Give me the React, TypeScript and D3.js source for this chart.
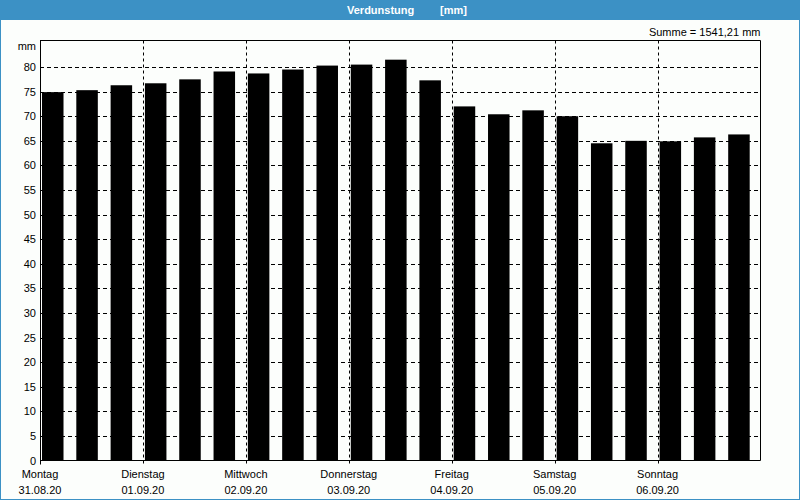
import React from "react";
import * as d3 from "d3";

const dayNames = ["Montag", "Dienstag", "Mittwoch", "Donnerstag", "Freitag", "Samstag", "Sonntag"];
const dayDates = ["31.08.20", "01.09.20", "02.09.20", "03.09.20", "04.09.20", "05.09.20", "06.09.20"];
const values = [74.9, 75.3, 76.3, 76.7, 77.5, 79.1, 78.7, 79.5, 80.3, 80.5, 81.5, 77.3, 72.0, 70.4, 71.2, 70.0, 64.5, 65.0, 64.9, 65.7, 66.3];
const yTicks = [0, 5, 10, 15, 20, 25, 30, 35, 40, 45, 50, 55, 60, 65, 70, 75, 80];
const titleName = "Verdunstung";
const titleUnit = "[mm]";
const sumText = "Summe = 1541,21 mm";
const unitText = "mm";
const barsPerDay = 3;

const W = 800, H = 500;
const L = 40, R = 760.5, T = 40.5, B = 460.5;

export default function App() {
  const x = d3.scaleLinear().domain([0, dayNames.length]).range([L, R]);
  const y = d3.scaleLinear().domain([0, 85.4]).range([B, T]);
  const slot = (x(1) - x(0)) / barsPerDay;
  const font = "'Liberation Sans', Arial, sans-serif";
  return (
    <svg width={W} height={H} style={{ position: "absolute", left: 0, top: 0, display: "block" }}>
      <rect x={0} y={0} width={W} height={H} fill="#fcfefc" />
      <rect x={0.5} y={0.5} width={W - 1} height={H - 1} fill="none" stroke="#3c91c5" strokeWidth={1} />
      <rect x={0} y={0} width={W} height={20} fill="#3c91c5" />
      <text x={347} y={14} textAnchor="start" fill="#ffffff" fontFamily={font} fontSize={11} fontWeight="bold">{titleName}</text>
      <text x={467} y={14} textAnchor="end" fill="#ffffff" fontFamily={font} fontSize={11} fontWeight="bold">{titleUnit}</text>
      <text x={R} y={36} textAnchor="end" fill="#000" fontFamily={font} fontSize={11}>{sumText}</text>
      <text x={36} y={50} textAnchor="end" fill="#000" fontFamily={font} fontSize={11}>{unitText}</text>
      {values.map((v, i) => {
        const x0 = x(0) + i * slot + 2;
        return <rect key={i} x={x0} y={y(v)} width={slot - 12.8} height={B - y(v)} fill="#000" />;
      })}
      {yTicks.filter((t) => t > 0).map((t) => (
        <line key={t} x1={L} x2={R} y1={Math.round(y(t)) + 0.5} y2={Math.round(y(t)) + 0.5} stroke="#000" strokeDasharray="4,3" />
      ))}
      {dayNames.slice(1).map((_, i) => {
        const xx = Math.round(x(i + 1)) + 0.5;
        return <line key={i} x1={xx} x2={xx} y1={T} y2={B + 4} stroke="#000" strokeDasharray="3,3" />;
      })}
      {yTicks.map((t) => (
        <text key={t} x={36} y={Math.round(y(t)) + 4} textAnchor="end" fill="#000" fontFamily={font} fontSize={11}>{t}</text>
      ))}
      <line x1={L + 0.5} x2={L + 0.5} y1={T} y2={B + 4} stroke="#000" />
      <line x1={L} x2={R} y1={T} y2={T} stroke="#000" />
      <line x1={R} x2={R} y1={T} y2={B} stroke="#000" />
      <line x1={L} x2={R} y1={B} y2={B} stroke="#000" />
      {dayNames.map((d, i) => (
        <g key={d}>
          <text x={x(i)} y={478} textAnchor="middle" fill="#000" fontFamily={font} fontSize={11}>{d}</text>
          <text x={x(i)} y={494} textAnchor="middle" fill="#000" fontFamily={font} fontSize={11}>{dayDates[i]}</text>
        </g>
      ))}
    </svg>
  );
}
